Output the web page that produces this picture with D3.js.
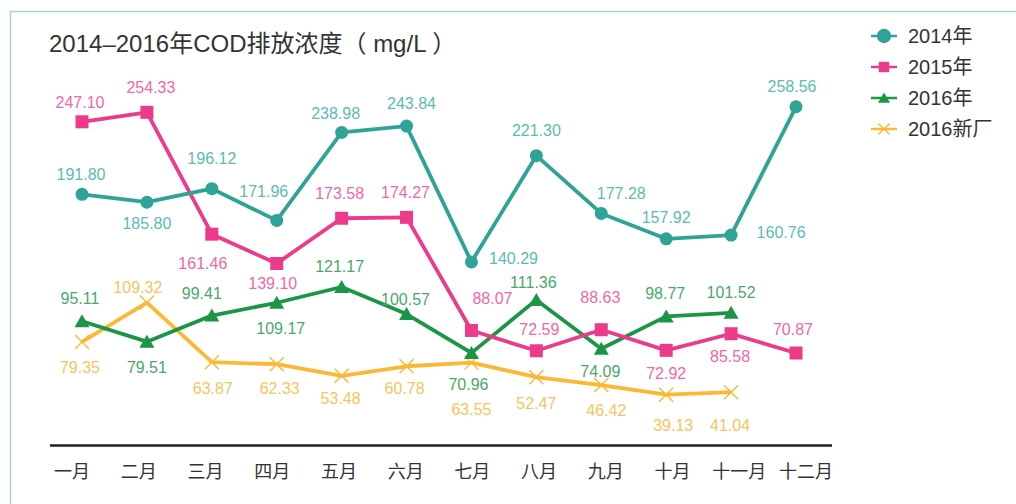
<!DOCTYPE html>
<html>
<head>
<meta charset="utf-8">
<script src="https://cdn.jsdelivr.net/npm/d3@7"></script>
<style>
  body { margin: 0; background: #fff; }
  svg { display: block; }
</style>
</head>
<body>
<div id="chart"></div>
<script>
"use strict";

const months = ["一月", "二月", "三月", "四月", "五月", "六月", "七月", "八月", "九月", "十月", "十一月", "十二月"];
const seriesNames = ["2014年", "2015年", "2016年", "2016新厂"];

const cod2014 = [191.80, 185.80, 196.12, 171.96, 238.98, 243.84, 140.29, 221.30, 177.28, 157.92, 160.76, 258.56];
const cod2015 = [247.10, 254.33, 161.46, 139.10, 173.58, 174.27, 88.07, 72.59, 88.63, 72.92, 85.58, 70.87];
const cod2016 = [95.11, 79.51, 99.41, 109.17, 121.17, 100.57, 70.96, 111.36, 74.09, 98.77, 101.52];
const cod2016new = [79.35, 109.32, 63.87, 62.33, 53.48, 60.78, 63.55, 52.47, 46.42, 39.13, 41.04];

// label offsets from each point (dx, dy to text center), picked by eye
const off2014 = [[-1, -20], [0, 21], [0, -30], [-13, -29], [-6, -19], [5, -23], [42, -4], [0, -25], [20, -20], [0, -21], [50, -3], [-4, -20]];
const off2015 = [[-2, -19], [4, -25], [-9, 29], [-4, 20], [-2, -25], [-1, -25], [21, -32], [3, -21], [-1, -32], [0, 23], [-1, 23], [-3, -24]];
const off2016 = [[-2, -23], [0, 26], [-10, -22], [4, 26], [-2, -21], [-1, -15], [-3, 31], [-3, -17], [-1, 23], [-1, -23], [0, -20]];
const off2016new = [[-2, 26], [-9, -15], [1, 26], [3, 24], [-1, 23], [-2, 22], [0, 47], [0, 26], [5, 25], [7, 31], [-1, 33]];

const plot = {
    width: 1016,
    height: 504,
    axisLeft: 50,
    axisRight: 832
};

const styles = [
    { line: "#2fa396", text: "#5bbcb0", marker: "circle" },
    { line: "#ee3a8b", text: "#f068a6", marker: "square" },
    { line: "#1b9646", text: "#48a96b", marker: "triangle" },
    { line: "#fdb833", text: "#fcc35a", marker: "cross" }
];

const seriesData = [cod2014, cod2015, cod2016, cod2016new];
const offsets = [off2014, off2015, off2016, off2016new];

const latin = "'Liberation Sans', Arial, 'Noto Sans CJK SC', sans-serif";

let svg = d3.select("#chart")
    .append("svg")
    .attr("width", plot.width)
    .attr("height", plot.height);

// frame
svg.append("rect")
    .attr("x", 10.5)
    .attr("y", 11.5)
    .attr("width", 1100)
    .attr("height", 600)
    .attr("fill", "none")
    .attr("stroke", "#a3d6cd")
    .attr("stroke-width", 1.5);

let xScale = d3.scalePoint().domain(months).range([82, 796]);
let xLabelScale = d3.scalePoint().domain(months).range([71.5, 805.5]);
let yScale = d3.scaleLinear().domain([0, 300]).range([446, 52.4]);

// title
svg.append("text")
    .attr("x", 49)
    .attr("y", 52)
    .attr("font-family", latin)
    .attr("font-size", "24px")
    .attr("fill", "#333")
    .text("2014–2016年COD排放浓度（ mg/L ）");

// base line
svg.append("line")
    .attr("x1", plot.axisLeft)
    .attr("x2", plot.axisRight)
    .attr("y1", yScale(0) - 0.5)
    .attr("y2", yScale(0) - 0.5)
    .attr("stroke", "#222")
    .attr("stroke-width", 2.5);

let xAxis = d3.axisBottom(xLabelScale).tickSize(0).tickPadding(0);
let gx = svg.append("g")
    .attr("transform", "translate(0, 465)")
    .call(xAxis);
gx.select(".domain").remove();
gx.selectAll("text")
    .attr("font-family", "'Noto Sans CJK SC', sans-serif")
    .attr("font-size", "18px")
    .attr("fill", "#333");

function drawMarker(g, type, x, y, color, size) {
    if (type == "circle") {
        g.append("circle").attr("cx", x).attr("cy", y).attr("r", 6.5 * size).attr("fill", color);
    } else if (type == "square") {
        let s = 13 * size;
        g.append("rect").attr("x", x - s / 2).attr("y", y - s / 2).attr("width", s).attr("height", s).attr("fill", color);
    } else if (type == "triangle") {
        let w = 7.5 * size;
        g.append("path")
            .attr("d", "M" + x + "," + (y - 7 * size) + "L" + (x + w) + "," + (y + 6 * size) + "L" + (x - w) + "," + (y + 6 * size) + "Z")
            .attr("fill", color);
    } else {
        let s = 7 * size;
        g.append("path")
            .attr("d", "M" + (x - s) + "," + (y - s) + "L" + (x + s) + "," + (y + s) + "M" + (x - s) + "," + (y + s) + "L" + (x + s) + "," + (y - s))
            .attr("stroke", color)
            .attr("stroke-width", 1.4)
            .attr("fill", "none");
    }
}

let line = d3.line()
    .x((d, i) => xScale(months[i]))
    .y((d) => yScale(d));

// draw bottom series first so 2014 sits on top
for (let k = seriesData.length - 1; k >= 0; k--) {
    let g = svg.append("g");
    g.append("path")
        .datum(seriesData[k])
        .attr("fill", "none")
        .attr("stroke", styles[k].line)
        .attr("stroke-width", 3.8)
        .attr("stroke-linejoin", "round")
        .attr("d", line);
    seriesData[k].forEach((v, i) => {
        drawMarker(g, styles[k].marker, xScale(months[i]), yScale(v), styles[k].line, 1);
    });
}

// value labels
seriesData.forEach((vals, k) => {
    svg.append("g").selectAll("text")
        .data(vals)
        .enter()
        .append("text")
        .attr("x", (d, i) => xScale(months[i]) + offsets[k][i][0])
        .attr("y", (d, i) => yScale(d) + offsets[k][i][1])
        .attr("dy", "0.35em")
        .attr("text-anchor", "middle")
        .attr("font-family", latin)
        .attr("font-size", "16px")
        .attr("fill", styles[k].text)
        .text((d) => d.toFixed(2));
});

// legend
seriesNames.forEach((name, k) => {
    let y = 36 + k * 31;
    let g = svg.append("g");
    g.append("line")
        .attr("x1", 871).attr("x2", 897)
        .attr("y1", y).attr("y2", y)
        .attr("stroke", styles[k].line)
        .attr("stroke-width", 2.5);
    drawMarker(g, styles[k].marker, 884, y, styles[k].line, k == 0 ? 1.1 : 0.8);
    g.append("text")
        .attr("x", 908)
        .attr("y", y)
        .attr("dy", "0.36em")
        .attr("font-family", latin)
        .attr("font-size", "20px")
        .attr("fill", "#333")
        .text(name);
});
</script>
</body>
</html>
